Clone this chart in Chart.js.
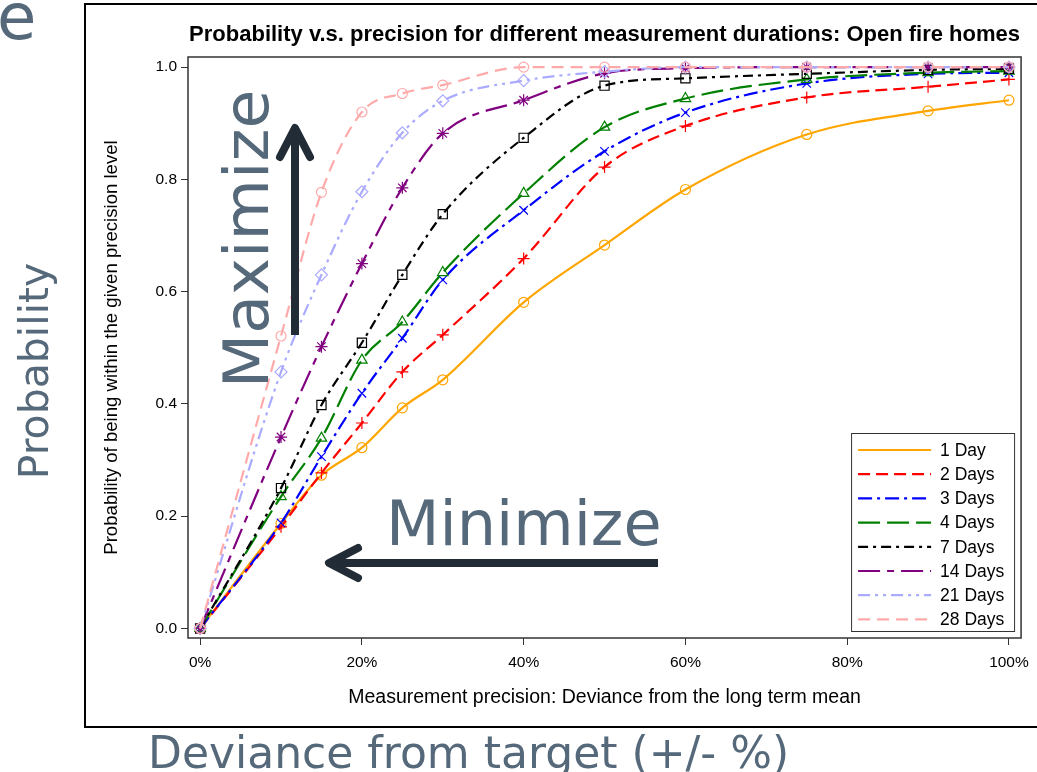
<!DOCTYPE html>
<html>
<head>
<meta charset="utf-8">
<script src="https://cdn.jsdelivr.net/npm/chart.js@4.4.1/dist/chart.umd.min.js"></script>
<style>
html,body{margin:0;padding:0;background:#fff;width:1037px;height:772px;overflow:hidden;}
#frame{position:absolute;left:84px;top:3px;width:1000px;height:725px;border:2px solid #000;box-sizing:border-box;background:#fff;}
#c{position:absolute;left:0;top:0;}
#ov{position:absolute;left:0;top:0;pointer-events:none;}
</style>
</head>
<body>
<div id="frame"></div>
<canvas id="c" width="1037" height="772"></canvas>
<svg id="ov" width="1037" height="772" xmlns="http://www.w3.org/2000/svg">
  <g font-family="DejaVu Sans" fill="#55697A">
    <text x="-3" y="39" font-size="64">e</text>
    <text transform="translate(48,371) rotate(-90)" text-anchor="middle" font-size="41">Probability</text>
    <text x="148" y="768" font-size="44">Deviance from target (+/- %)</text>
    <text transform="translate(268,239) rotate(-90)" text-anchor="middle" font-size="63">Maximize</text>
    <text x="386" y="545" font-size="62">Minimize</text>
  </g>
  <g stroke="#222C36" stroke-width="8" fill="none">
    <line x1="295" y1="335" x2="295" y2="132"/>
    <polyline points="280,157 295,128 310,157" stroke-linecap="round" stroke-linejoin="round"/>
    <line x1="658" y1="563" x2="333" y2="563"/>
    <polyline points="358,548 329,563 358,578" stroke-linecap="round" stroke-linejoin="round"/>
  </g>
</svg>
<script>
// ---- data ----
const xPct = [0, 10, 15, 20, 25, 30, 40, 50, 60, 75, 90, 100];
const xTicks = [0, 20, 40, 60, 80, 100];
const yTicks = [0, 0.2, 0.4, 0.6, 0.8, 1.0];
const seriesNames = ['1 Day', '2 Days', '3 Days', '4 Days', '7 Days', '14 Days', '21 Days', '28 Days'];
const day1  = [0, 0.187, 0.273, 0.322, 0.393, 0.443, 0.581, 0.683, 0.782, 0.880, 0.922, 0.941];
const day2  = [0, 0.181, 0.277, 0.366, 0.457, 0.523, 0.659, 0.822, 0.895, 0.946, 0.965, 0.978];
const day3  = [0, 0.188, 0.306, 0.419, 0.517, 0.621, 0.745, 0.850, 0.919, 0.971, 0.988, 0.990];
const day4  = [0, 0.235, 0.339, 0.478, 0.546, 0.634, 0.775, 0.893, 0.944, 0.978, 0.990, 0.993];
const day7  = [0, 0.250, 0.398, 0.509, 0.630, 0.738, 0.874, 0.967, 0.980, 0.988, 0.995, 0.997];
const day14 = [0, 0.341, 0.502, 0.650, 0.785, 0.882, 0.941, 0.989, 0.998, 1.000, 1.000, 1.000];
const day21 = [0, 0.457, 0.630, 0.778, 0.883, 0.940, 0.976, 0.992, 1.000, 1.000, 1.000, 1.000];
const day28 = [0, 0.521, 0.777, 0.920, 0.953, 0.968, 1.000, 1.000, 1.000, 1.000, 1.000, 1.000];
const seriesValues = [day1, day2, day3, day4, day7, day14, day21, day28];

const titleText = 'Probability v.s. precision for different measurement durations: Open fire homes';
const xTitle = 'Measurement precision: Deviance from the long term mean';
const yTitle = 'Probability of being within the given precision level';

// ---- styles ----
const colors  = ['#FFA500', '#FF0000', '#0000FF', '#008000', '#000000', '#800080', '#AAAAFF', '#FFAAAA'];
const dashes  = [[], [12, 6], [14, 5, 3, 5], [22, 7], [10, 5, 3, 5], [22, 7, 7, 7], [12, 5, 3, 5, 3, 5], [12, 7]];
const markers = ['circle', 'cross', 'crossRot', 'triangle', 'rect', 'star', 'rectRot', 'circle'];
const markerR = [5, 6, 6, 6, 6.5, 6, 6, 5];
const F = '"Liberation Sans", Arial, sans-serif';

const datasets = seriesNames.map((name, i) => ({
  label: name,
  data: xPct.map((x, j) => ({x: x, y: seriesValues[i][j]})),
  borderColor: colors[i],
  borderWidth: 2.2,
  borderDash: dashes[i],
  pointStyle: markers[i],
  pointRadius: markerR[i],
  pointBorderColor: colors[i],
  pointBackgroundColor: 'rgba(0,0,0,0)',
  pointBorderWidth: 1.2,
  fill: false,
  cubicInterpolationMode: 'monotone',
  order: seriesNames.length - i
}));

const framePlugin = {
  id: 'frame',
  afterDatasetsDraw(chart) {
    const {ctx, chartArea: a} = chart;
    ctx.save();
    // legend box inside the plot
    const w = 164, h = 199;
    const x0 = a.right - 6 - w, y0 = a.bottom - 6 - h;
    ctx.fillStyle = '#fff';
    ctx.fillRect(x0, y0, w, h);
    ctx.strokeStyle = '#333';
    ctx.lineWidth = 1;
    ctx.strokeRect(x0 + 0.5, y0 + 0.5, w - 1, h - 1);
    chart.data.datasets.forEach((ds, i) => {
      const y = y0 + 17 + i * 24.2;
      ctx.strokeStyle = ds.borderColor;
      ctx.lineWidth = 2.2;
      ctx.setLineDash(ds.borderDash || []);
      ctx.beginPath();
      ctx.moveTo(x0 + 7, y);
      ctx.lineTo(x0 + 80, y);
      ctx.stroke();
      ctx.setLineDash([]);
      ctx.fillStyle = '#000';
      ctx.font = '17.5px ' + F;
      ctx.textBaseline = 'middle';
      ctx.textAlign = 'left';
      ctx.fillText(ds.label, x0 + 89, y + 1);
    });
    // plot frame
    ctx.strokeStyle = '#333';
    ctx.lineWidth = 1.5;
    ctx.strokeRect(a.left, a.top, a.right - a.left, a.bottom - a.top);
    ctx.restore();
  }
};

new Chart(document.getElementById('c'), {
  type: 'line',
  data: {datasets: datasets},
  plugins: [framePlugin],
  options: {
    responsive: false,
    animation: false,
    devicePixelRatio: 1,
    layout: {padding: {left: 0, right: 14, top: 0, bottom: 0}},
    plugins: {
      legend: {display: false},
      tooltip: {enabled: false},
      title: {
        display: true, text: titleText, fullSize: false, color: '#000',
        font: {family: F, size: 22, weight: 'bold', lineHeight: 1.2},
        padding: {top: 21.8, bottom: 8.8}
      }
    },
    scales: {
      x: {
        type: 'linear', min: -1.5, max: 101.5,
        afterBuildTicks: s => { s.ticks = xTicks.map(v => ({value: v})); },
        afterFit: s => { s.height = 134; },
        ticks: {callback: v => v + '%', font: {family: F, size: 15.5}, color: '#000', padding: 8, maxRotation: 0, autoSkip: false},
        grid: {drawOnChartArea: false, drawTicks: true, tickLength: 7, color: '#333', lineWidth: 1},
        border: {display: false},
        title: {display: true, text: xTitle, color: '#000', font: {family: F, size: 19.5, lineHeight: 1.2}, padding: {top: 0, bottom: 62.3}}
      },
      y: {
        type: 'linear', min: -0.017, max: 1.018,
        afterBuildTicks: s => { s.ticks = yTicks.map(v => ({value: v})); },
        afterFit: s => { s.width = 188; },
        ticks: {callback: v => v.toFixed(1), font: {family: F, size: 15.5}, color: '#000', padding: 4, autoSkip: false},
        grid: {drawOnChartArea: false, drawTicks: true, tickLength: 7, color: '#333', lineWidth: 1},
        border: {display: false},
        title: {display: true, text: yTitle, color: '#000', font: {family: F, size: 18.6, lineHeight: 1.2}, padding: {top: 100.8, bottom: 0}}
      }
    }
  }
});
</script>
</body>
</html>
